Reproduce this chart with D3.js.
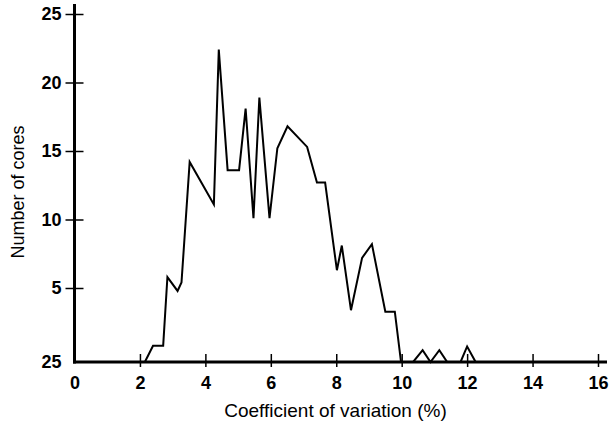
<!DOCTYPE html>
<html>
<head>
<meta charset="utf-8">
<script src="https://cdn.jsdelivr.net/npm/d3@7"></script>
<style>
  html, body { margin: 0; padding: 0; background: #fff; }
  svg { display: block; font-family: "Liberation Sans", Arial, Helvetica, sans-serif; }
</style>
</head>
<body>
<svg id="chart" width="609" height="429"></svg>
<script>
// ---- data ----
const cvValues = [2.15, 2.40, 2.71, 2.84, 3.15, 3.27, 3.52, 4.26, 4.41, 4.68, 5.03, 5.23, 5.47, 5.65, 5.96, 6.20, 6.51, 7.11, 7.41, 7.66, 8.02, 8.17, 8.45, 8.79, 9.09, 9.50, 9.79, 9.98, 10.35, 10.64, 10.88, 11.15, 11.39, 11.80, 12.00, 12.26];
const coreCounts = [0, 1.1, 1.1, 5.8, 4.8, 5.4, 14.2, 11.1, 22.4, 13.6, 13.6, 18.1, 10.1, 18.9, 10.1, 15.2, 16.8, 15.3, 12.7, 12.7, 6.3, 8.1, 3.5, 7.2, 8.2, 3.4, 3.4, 0, 0, 0.8, 0, 0.8, 0, 0, 1.05, 0];
const xTickValues = [0, 2, 4, 6, 8, 10, 12, 14, 16];
const yTickValues = [0, 5, 10, 15, 20, 25];
const yTickLabels = ["25", "5", "10", "15", "20", "25"];
const xTitle = "Coefficient of variation (%)";
const yTitle = "Number of cores";

const svg = d3.select("#chart");

const x = d3.scaleLinear().domain([0, 16]).range([74.5, 598]);
const y = d3.scaleLinear().domain([0, 5, 25]).range([362, 288, 14]);

// data line
const points = cvValues.map((v, i) => [v, coreCounts[i]]);
svg.append("path")
  .datum(points)
  .attr("fill", "none")
  .attr("stroke", "#000")
  .attr("stroke-width", 2)
  .attr("stroke-linejoin", "miter")
  .attr("d", d3.line().x(d => x(d[0])).y(d => y(d[1])));

// x axis
const xAxis = svg.append("g")
  .attr("transform", `translate(0,${y(0)})`)
  .call(d3.axisBottom(x).tickValues(xTickValues).tickSize(0).tickPadding(14).tickFormat(d3.format("d")));
xAxis.select(".domain").remove();
xAxis.append("line")
  .attr("x1", x(0) - 1.5).attr("x2", 607)
  .attr("stroke", "#000").attr("stroke-width", 3);
xAxis.selectAll(".tick").filter(d => d !== 0).append("line")
  .attr("y1", -8).attr("y2", 5)
  .attr("stroke", "#000").attr("stroke-width", 1.5);
xAxis.selectAll(".tick text")
  .attr("fill", "#000")
  .attr("font-size", 18)
  .attr("font-weight", "bold")
  .attr("font-family", "Liberation Sans, Arial, sans-serif");

// y axis
const yAxis = svg.append("g")
  .attr("transform", `translate(${x(0)},0)`)
  .call(d3.axisLeft(y).tickValues(yTickValues).tickSize(0).tickPadding(13)
    .tickFormat((d, i) => yTickLabels[i]));
yAxis.select(".domain").remove();
yAxis.append("line")
  .attr("y1", 4).attr("y2", y(0) + 1.5)
  .attr("stroke", "#000").attr("stroke-width", 3);
yAxis.selectAll(".tick").filter(d => d !== 0).append("line")
  .attr("x1", -9).attr("x2", 9)
  .attr("stroke", "#000").attr("stroke-width", 1.5);
yAxis.selectAll(".tick text")
  .attr("fill", "#000")
  .attr("font-size", 18)
  .attr("font-weight", "bold")
  .attr("font-family", "Liberation Sans, Arial, sans-serif");

// titles
svg.append("text")
  .attr("x", 335.5).attr("y", 417)
  .attr("text-anchor", "middle")
  .attr("font-size", 19)
  .attr("fill", "#000")
  .text(xTitle);

svg.append("text")
  .attr("transform", "translate(24,192) rotate(-90)")
  .attr("text-anchor", "middle")
  .attr("font-size", 18)
  .attr("fill", "#000")
  .text(yTitle);
</script>
</body>
</html>
